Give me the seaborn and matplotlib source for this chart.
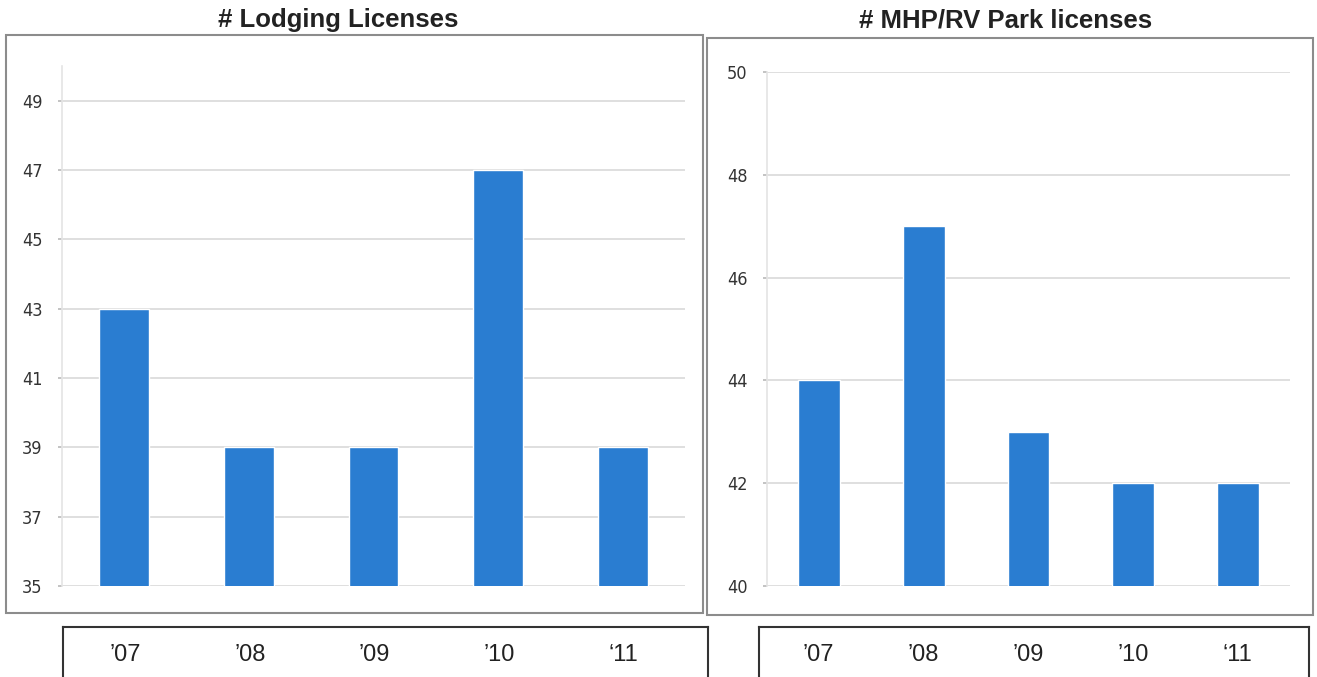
import numpy as np
import pandas as pd
import matplotlib.pyplot as plt
import seaborn as sns
from matplotlib.patches import Rectangle

# data
years = ['’07', '’08', '’09', '’10', '‘11']
lodging = [43, 39, 39, 47, 39]
mhp_rv = [44, 47, 43, 42, 42]

lodging_ticks = [35, 37, 39, 41, 43, 45, 47, 49]
mhp_ticks = [40, 42, 44, 46, 48, 50]

BAR = '#2a7dd1'
GRID = '#d9d9d9'
W, H = 1317, 677

sns.set_theme(style='white')
plt.rcParams['font.family'] = ['Liberation Sans', 'DejaVu Sans']

fig = plt.figure(figsize=(W / 100, H / 100), dpi=100)


def fig_box(x0, y0, x1, y1):
    # pixel box (top-left origin) -> figure fraction rect
    return [x0 / W, 1 - y1 / H, (x1 - x0) / W, (y1 - y0) / H]


def frame(x0, y0, x1, y1, color, lw):
    fig.patches.append(Rectangle((x0 / W, 1 - y1 / H), (x1 - x0) / W, (y1 - y0) / H,
                                 transform=fig.transFigure, fill=False,
                                 edgecolor=color, linewidth=lw, zorder=0))


def panel(rect, values, ticks, ylim, title, title_x):
    ax = fig.add_axes(rect)
    df = pd.DataFrame({'year': years, 'n': values})
    sns.barplot(data=df, x='year', y='n', ax=ax, color=BAR, saturation=1,
                width=0.4, zorder=2)
    ax.set_xlim(-0.5, 4.5)
    ax.set_ylim(*ylim)
    ax.set_yticks(ticks)
    ax.set_xticks([])
    ax.set_xlabel('')
    ax.set_ylabel('')
    ax.grid(axis='y', color=GRID, linewidth=1.2, zorder=0)
    for s in ['top', 'right', 'bottom']:
        ax.spines[s].set_visible(False)
    ax.spines['left'].set_color('#e4e4e4')
    ax.spines['left'].set_linewidth(1.2)
    ax.tick_params(axis='y', left=True, length=3, color='#bbbbbb', pad=11,
                   labelsize=13, labelcolor='#333333')
    for lab in ax.get_yticklabels():
        lab.set_family('DejaVu Sans')
        lab.set_fontstretch('condensed')
    fig.text(title_x / W, 1 - 20 / H, title, ha='center', va='center',
             fontsize=18.5, fontweight='bold', color='#222222')
    return ax


def label_box(rect, xlim):
    bx = fig.add_axes(rect)
    bx.set_xlim(*xlim)
    bx.set_ylim(0, 1)
    bx.set_xticks([])
    bx.set_yticks([])
    bx.patch.set_alpha(0)
    for s in bx.spines.values():
        s.set_color('#333333')
        s.set_linewidth(1.5)
    bx.spines['bottom'].set_visible(False)
    for i, y in enumerate(years):
        bx.text(i, 0.55, y, ha='center', va='center', fontsize=17, color='#222222')


# outer panel frames
frame(6, 35, 703, 613, '#8c8c8c', 1.5)
frame(707, 38, 1313, 615, '#8c8c8c', 1.5)

panel(fig_box(62, 66, 685, 586), lodging, lodging_ticks, (35, 50),
      '# Lodging Licenses', 338)
panel(fig_box(767, 72, 1290, 586), mhp_rv, mhp_ticks, (40, 50),
      '# MHP/RV Park licenses', 1006)

label_box(fig_box(63, 627, 708, 690), (-0.5, 4.68))
label_box(fig_box(759, 627, 1309, 690), (-0.57, 4.68))

fig.savefig('out.png', dpi=100, facecolor='white')
